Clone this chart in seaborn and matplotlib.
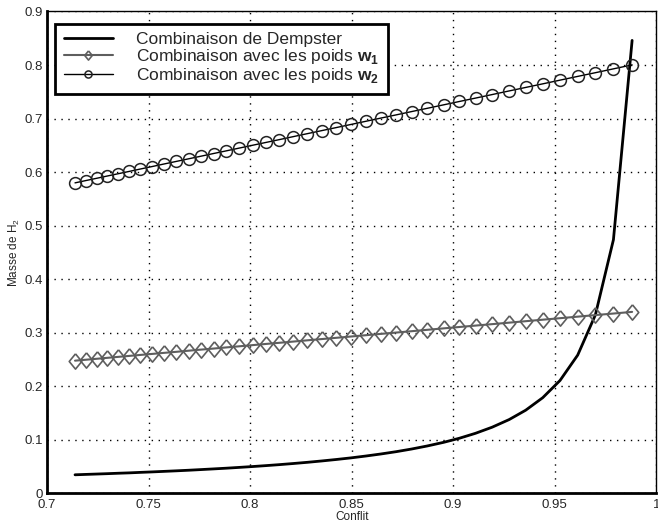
import numpy as np
import pandas as pd
import matplotlib
matplotlib.use("Agg")
import matplotlib.pyplot as plt
import seaborn as sns

# Values
conflit = [0.7138, 0.7190, 0.7244, 0.7297, 0.7351, 0.7405, 0.7459, 0.7518,
           0.7577, 0.7636, 0.7697, 0.7757, 0.7820, 0.7882, 0.7946, 0.8012,
           0.8077, 0.8142, 0.8211, 0.8282, 0.8352, 0.8425, 0.8497, 0.8569,
           0.8643, 0.8720, 0.8795, 0.8872, 0.8953, 0.9031, 0.9110, 0.9192,
           0.9276, 0.9357, 0.9441, 0.9526, 0.9613, 0.9700, 0.9789, 0.9881]

dempster = [0.0349, 0.0356, 0.0363, 0.0370, 0.0378, 0.0385, 0.0394, 0.0403,
            0.0413, 0.0423, 0.0434, 0.0446, 0.0459, 0.0472, 0.0487, 0.0503,
            0.0520, 0.0538, 0.0559, 0.0582, 0.0607, 0.0635, 0.0665, 0.0699,
            0.0737, 0.0781, 0.0830, 0.0887, 0.0955, 0.1032, 0.1124, 0.1238,
            0.1381, 0.1555, 0.1789, 0.2110, 0.2584, 0.3333, 0.4739, 0.8460]

poids_w1 = [0.2480, 0.2497, 0.2515, 0.2533, 0.2551, 0.2569, 0.2587, 0.2606,
            0.2626, 0.2645, 0.2666, 0.2686, 0.2706, 0.2727, 0.2748, 0.2770,
            0.2792, 0.2813, 0.2836, 0.2860, 0.2883, 0.2907, 0.2931, 0.2955,
            0.2980, 0.3005, 0.3030, 0.3056, 0.3083, 0.3109, 0.3135, 0.3162,
            0.3190, 0.3217, 0.3245, 0.3273, 0.3302, 0.3331, 0.3360, 0.3391]

poids_w2 = [0.5800, 0.5842, 0.5885, 0.5928, 0.5971, 0.6014, 0.6058, 0.6105,
            0.6153, 0.6200, 0.6249, 0.6297, 0.6348, 0.6397, 0.6449, 0.6502,
            0.6554, 0.6606, 0.6662, 0.6719, 0.6775, 0.6833, 0.6891, 0.6949,
            0.7009, 0.7070, 0.7131, 0.7192, 0.7257, 0.7320, 0.7383, 0.7449,
            0.7517, 0.7582, 0.7649, 0.7718, 0.7788, 0.7857, 0.7929, 0.8003]

x_ticks = [0.7, 0.75, 0.8, 0.85, 0.9, 0.95, 1]
x_labels = ["0.7", "0.75", "0.8", "0.85", "0.9", "0.95", "1"]
y_ticks = [0, 0.1, 0.2, 0.3, 0.4, 0.5, 0.6, 0.7, 0.8, 0.9]
y_labels = ["0", "0.1", "0.2", "0.3", "0.4", "0.5", "0.6", "0.7", "0.8", "0.9"]

df = pd.DataFrame({"conflit": conflit, "dempster": dempster,
                   "w1": poids_w1, "w2": poids_w2})

sns.set_style("white")
plt.rcParams['font.family'] = ['Liberation Sans', 'DejaVu Sans']
plt.rcParams['mathtext.fontset'] = 'custom'
plt.rcParams['mathtext.rm'] = 'Liberation Sans'
plt.rcParams['mathtext.bf'] = 'Liberation Sans:bold'

fig = plt.figure(figsize=(6.58, 5.32), dpi=100)
ax = fig.add_axes([0.0714, 0.0724, 0.926, 0.906])

# diamond marker a bit wider than matplotlib's thin one
diamond = [(0, 1), (0.82, 0), (0, -1), (-0.82, 0), (0, 1)]

sns.lineplot(data=df, x="conflit", y="dempster", ax=ax, color="black",
             linewidth=2.0, label="Combinaison de Dempster")
sns.lineplot(data=df, x="conflit", y="w1", ax=ax, color="#5e5e5e",
             linewidth=1.5, marker=diamond, markersize=11,
             markerfacecolor="none", markeredgecolor="#5e5e5e",
             markeredgewidth=1.2,
             label=r"Combinaison avec les poids $\mathbf{w}_\mathbf{1}$")
sns.lineplot(data=df, x="conflit", y="w2", ax=ax, color="black",
             linewidth=1.0, marker="o", markersize=8.5,
             markerfacecolor="none", markeredgecolor="#222222",
             markeredgewidth=1.1,
             label=r"Combinaison avec les poids $\mathbf{w}_\mathbf{2}$")

ax.set_xlim(0.7, 1)
ax.set_ylim(0, 0.9)
ax.set_xticks(x_ticks)
ax.set_xticklabels(x_labels)
ax.set_yticks(y_ticks)
ax.set_yticklabels(y_labels)
ax.tick_params(direction="in", length=5, width=1.2, labelsize=9.5,
               color="black", pad=3)
ax.tick_params(axis="x", pad=4)
ax.grid(True, linestyle=(0, (1, 4)), color="black", linewidth=1.0)
for side in ["left", "bottom"]:
    ax.spines[side].set_linewidth(2.0)
    ax.spines[side].set_color("black")
for side in ["top", "right"]:
    ax.spines[side].set_linewidth(1.0)
    ax.spines[side].set_color("black")

ax.set_xlabel("Conflit", fontsize=8.5, labelpad=0)
ax.set_ylabel(r"Masse de H$_2$", fontsize=8.5, labelpad=2)

leg = ax.legend(loc="upper left", bbox_to_anchor=(0.013, 0.975),
                fontsize=12.5, frameon=True, fancybox=False,
                handlelength=2.85, handletextpad=1.3, borderpad=0.5,
                labelspacing=0.0, borderaxespad=0, markerscale=0.6)
leg.get_frame().set_edgecolor("black")
leg.get_frame().set_linewidth(2.0)
leg.get_frame().set_alpha(1)

fig.savefig("out.png", dpi=100)
